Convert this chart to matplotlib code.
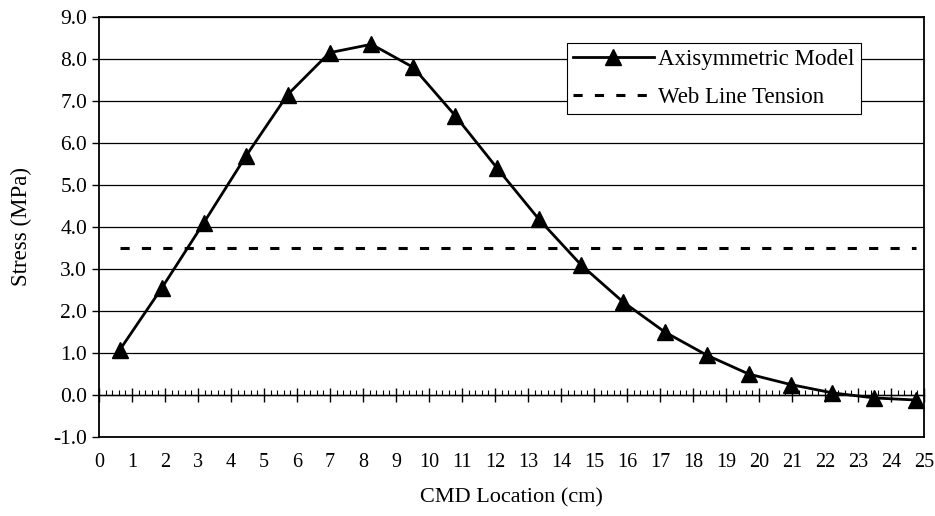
import matplotlib.pyplot as plt
import numpy as np
from matplotlib.ticker import MultipleLocator, FormatStrFormatter

plt.rcParams['font.family'] = ['Liberation Serif', 'DejaVu Serif']
plt.rcParams['axes.unicode_minus'] = False

# CMD location (cm) of each model point, 0.5 in spacing
cmd_x = [0.635, 1.905, 3.175, 4.445, 5.715, 6.985, 8.255, 9.525, 10.795, 12.065,
         13.335, 14.605, 15.875, 17.145, 18.415, 19.685, 20.955, 22.225, 23.495, 24.765]
stress = [1.08, 2.55, 4.10, 5.68, 7.15, 8.15, 8.35, 7.80, 6.65, 5.40,
          4.18, 3.10, 2.22, 1.50, 0.95, 0.50, 0.25, 0.05, -0.07, -0.12]
web_tension = 3.5
y_min, y_max = -1, 9

fig = plt.figure(figsize=(9.35, 5.16), dpi=100)
ax = fig.add_axes([99/935, 79/516, 825/935, 420/516])

ax.plot(cmd_x, stress, color='black', lw=2, marker='^', ms=12,
        label='Axisymmetric Model')
ax.plot([cmd_x[0], cmd_x[-1]], [web_tension, web_tension], color='black', lw=2.2,
        ls=(0, (3, 4)), label='Web Line Tension')

ax.set_xlim(0, 25)
ax.set_ylim(y_min, y_max)
ax.yaxis.set_major_locator(MultipleLocator(1))
ax.yaxis.set_major_formatter(FormatStrFormatter('%.1f'))
ax.xaxis.set_major_locator(MultipleLocator(1))
ax.xaxis.set_minor_locator(MultipleLocator(0.2))

ax.grid(axis='y', color='black', lw=0.9)
# plot area bottom edge (the x spine sits on the zero line)
ax.axhline(y_min, color='black', lw=1.3, clip_on=False, zorder=3)
ax.spines['bottom'].set_position(('data', 0))
ax.spines['bottom'].set_linewidth(1)
for s in ['left', 'right', 'top']:
    ax.spines[s].set_linewidth(1.3)

ax.tick_params(axis='x', which='major', direction='inout', length=10, width=1,
               pad=37, labelsize=14.5)
ax.tick_params(axis='x', which='minor', direction='in', length=3.5, width=0.8)
ax.tick_params(axis='y', direction='out', length=5, width=1, labelsize=15.5)

ax.set_xlabel('CMD Location (cm)', fontsize=16)
ax.xaxis.set_label_coords(0.5, -0.122)
ax.set_ylabel('Stress (MPa)', fontsize=16.5)
ax.yaxis.set_label_coords(-0.081, 0.5)

leg = ax.legend(loc='upper right', bbox_to_anchor=(0.9236, 0.938), fontsize=16.5,
                handlelength=3.5, fancybox=False, framealpha=1,
                edgecolor='black', borderpad=0.28, labelspacing=0.7,
                handletextpad=0.2, borderaxespad=0)
leg.get_frame().set_linewidth(0.8)

fig.savefig('out.png', dpi=100)
